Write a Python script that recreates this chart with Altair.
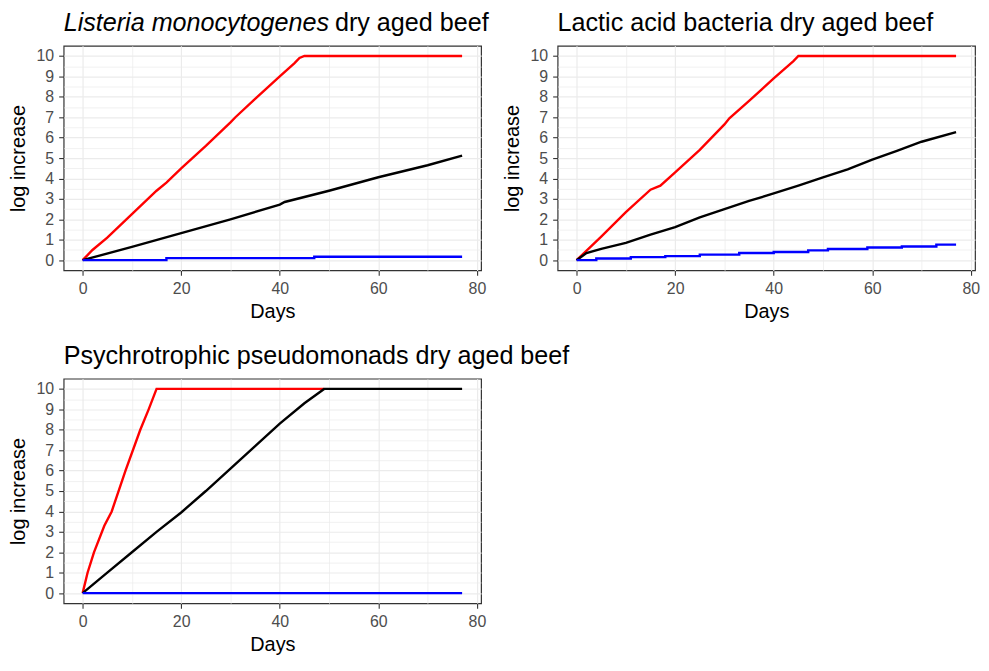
import altair as alt
import pandas as pd

FONT = "Liberation Sans"

# ---- Listeria monocytogenes ----
lm_red_x = [0, 2, 5, 10, 15, 17, 20, 25, 30, 31, 35, 40, 43, 44, 45, 77]
lm_red_y = [0, 0.5, 1.1, 2.25, 3.4, 3.8, 4.5, 5.6, 6.75, 7.0, 7.9, 9.0, 9.65, 9.9, 10, 10]
lm_blk_x = [0, 10, 20, 30, 40, 41, 50, 60, 70, 77]
lm_blk_y = [0, 0.65, 1.32, 2.0, 2.72, 2.85, 3.4, 4.06, 4.65, 5.12]
lm_blu_x = [0, 17, 17, 47, 47, 77]
lm_blu_y = [0, 0, 0.1, 0.1, 0.17, 0.17]

# ---- Lactic acid bacteria ----
lab_red_x = [0, 5, 10, 15, 17, 20, 25, 30, 31, 35, 40, 44, 45, 77]
lab_red_y = [0, 1.15, 2.35, 3.45, 3.65, 4.3, 5.4, 6.65, 6.95, 7.8, 8.9, 9.75, 10, 10]
lab_blk_x = [0, 2, 5, 10, 15, 20, 25, 30, 35, 40, 45, 50, 55, 60, 65, 70, 77]
lab_blk_y = [0, 0.35, 0.55, 0.85, 1.25, 1.62, 2.1, 2.5, 2.9, 3.27, 3.65, 4.05, 4.45, 4.92, 5.35, 5.8, 6.27]
lab_blu_x = [0, 4, 4, 11, 11, 18, 18, 25, 25, 33, 33, 40, 40, 47, 47, 51, 51, 59, 59, 66, 66, 73, 73, 77]
lab_blu_y = [0, 0, 0.08, 0.08, 0.15, 0.15, 0.2, 0.2, 0.27, 0.27, 0.35, 0.35, 0.4, 0.4, 0.48, 0.48,
             0.55, 0.55, 0.62, 0.62, 0.67, 0.67, 0.76, 0.76]

# ---- Psychrotrophic pseudomonads ----
ps_red_x = [0, 1, 2.3, 4.4, 5.9, 8.7, 11.7, 13.4, 15, 49]
ps_red_y = [0, 1.0, 2.0, 3.3, 4.0, 6.0, 8.0, 9.0, 10, 10]
ps_blk_x = [0, 5, 10, 15, 20, 25, 30, 35, 40, 45, 49, 77]
ps_blk_y = [0, 1.0, 2.0, 3.0, 3.95, 5.0, 6.1, 7.2, 8.3, 9.3, 10, 10]
ps_blu_x = [0, 77]
ps_blu_y = [0, 0]

x_ticks = [0, 10, 20, 30, 40, 50, 60, 70, 80]
y_ticks = [i / 2 for i in range(0, 21)]

xaxis = alt.Axis(
    values=x_ticks,
    labelExpr="datum.value % 20 == 0 ? format(datum.value, 'd') : ''",
    tickColor={"condition": {"test": "datum.value % 20 != 0", "value": "transparent"}, "value": "#333333"},
    gridWidth={"condition": {"test": "datum.value % 20 != 0", "value": 0.7}, "value": 1.2},
    gridColor="#EBEBEB", domain=False, tickSize=5, tickWidth=1.1,
    labelFontSize=16, labelColor="#4D4D4D", labelPadding=5, labelFont=FONT,
    titleFontSize=20, titleColor="#000000", titlePadding=5, titleFontWeight="normal", titleFont=FONT,
)
yaxis = alt.Axis(
    values=y_ticks,
    labelExpr="datum.value % 1 == 0 ? format(datum.value, 'd') : ''",
    tickColor={"condition": {"test": "datum.value % 1 != 0", "value": "transparent"}, "value": "#333333"},
    gridWidth={"condition": {"test": "datum.value % 1 != 0", "value": 0.7}, "value": 1.2},
    gridColor="#EBEBEB", domain=False, tickSize=5, tickWidth=1.1,
    labelFontSize=16, labelColor="#4D4D4D", labelPadding=5, labelFont=FONT,
    minExtent=28, maxExtent=28,
    titleFontSize=20, titleColor="#000000", titlePadding=7, titleFontWeight="normal", titleFont=FONT,
)

W, H = 420, 226


def line(xs, ys, color):
    df = pd.DataFrame({"day": xs, "val": ys})
    return alt.Chart(df).mark_line(color=color, strokeWidth=2.4).encode(
        x=alt.X("day:Q", scale=alt.Scale(domain=[-3.85, 80.85], nice=False, zero=False), axis=xaxis, title="Days"),
        y=alt.Y("val:Q", scale=alt.Scale(domain=[-0.5, 10.5], nice=False), axis=yaxis, title="log increase"),
    )


def title_text(text, dx, italic=False):
    return alt.Chart(pd.DataFrame({"t": [text]})).mark_text(
        align="left", baseline="alphabetic", fontSize=25.3, font=FONT,
        fontStyle="italic" if italic else "normal", color="#000000",
    ).encode(text="t:N", x=alt.value(dx), y=alt.value(-15))


def panel(series, titles):
    layers = [line(x, y, c) for x, y, c in series] + titles
    return alt.layer(*layers).properties(width=W, height=H)


p1 = panel(
    [(lm_red_x, lm_red_y, "#FF0000"), (lm_blk_x, lm_blk_y, "#000000"), (lm_blu_x, lm_blu_y, "#0000FF")],
    [title_text("Listeria monocytogenes", 0, italic=True), title_text("dry aged beef", 273)],
)
p2 = panel(
    [(lab_red_x, lab_red_y, "#FF0000"), (lab_blk_x, lab_blk_y, "#000000"), (lab_blu_x, lab_blu_y, "#0000FF")],
    [title_text("Lactic acid bacteria dry aged beef", 0)],
)
p3 = panel(
    [(ps_red_x, ps_red_y, "#FF0000"), (ps_blk_x, ps_blk_y, "#000000"), (ps_blu_x, ps_blu_y, "#0000FF")],
    [title_text("Psychrotrophic pseudomonads dry aged beef", 0)],
)

chart = alt.vconcat(
    alt.hconcat(p1, p2, spacing=12),
    p3,
    spacing=21,
).properties(
    padding={"left": 0, "top": 0, "right": 0, "bottom": 0},
    background="white",
).configure_view(
    stroke="#333333", strokeWidth=1.2,
)

chart.save("out.html", embed_options={"renderer": "svg", "actions": False})
